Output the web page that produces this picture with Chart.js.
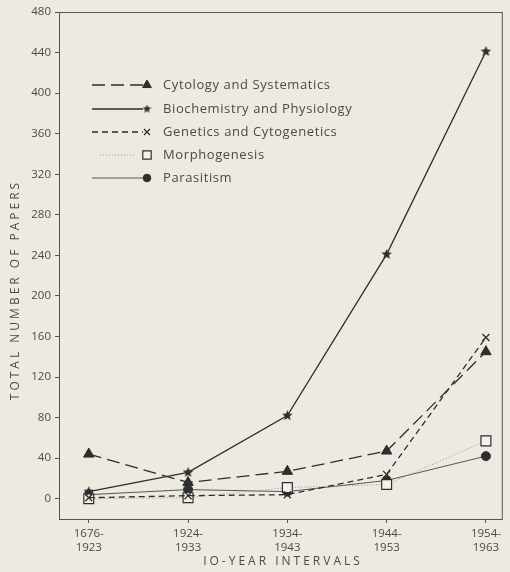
<!DOCTYPE html>
<html>
<head>
<meta charset="utf-8">
<script src="https://cdn.jsdelivr.net/npm/chart.js@4/dist/chart.umd.min.js"></script>
<style>
  html, body { margin: 0; padding: 0; background: #edeae2; }
  #wrap { width: 510px; height: 572px; }
</style>
</head>
<body>
<div id="wrap"><canvas id="c" width="510" height="572"></canvas></div>
<script>
const INTERVALS = [['1676-', '1923'], ['1924-', '1933'], ['1934-', '1943'], ['1944-', '1953'], ['1954-', '1963']];
const Y_TICKS = [0, 40, 80, 120, 160, 200, 240, 280, 320, 360, 400, 440, 480];

const cytology = [44, 16, 27, 47, 145];
const biochemistry = [7, 26, 82, 241, 441];
const genetics = [1, 3, 4, 24, 159];
const morphogenesis = [0, 1, 11, 14, 57];
const parasitism = [4, 9, 7, 18, 42];

const INK = '#2e2e2e';
const TEXT = '#4a4a4a';

// filled five-point star, chart.js has no solid star
function starImage(size) {
  const cv = document.createElement('canvas');
  cv.width = size; cv.height = size;
  const g = cv.getContext('2d');
  const cx = size / 2, cy = size / 2, R = size / 2, r = R * 0.45;
  g.beginPath();
  for (let i = 0; i < 10; i++) {
    const rad = i % 2 ? r : R;
    const a = -Math.PI / 2 + i * Math.PI / 5;
    g.lineTo(cx + rad * Math.cos(a), cy + rad * Math.sin(a));
  }
  g.closePath();
  g.fillStyle = INK;
  g.fill();
  return cv;
}
const STAR = starImage(11);
const STAR_SMALL = starImage(9);

const pts = (arr) => arr.map((v, i) => ({ x: i, y: v }));

const series = [
  { label: 'Cytology and Systematics', data: cytology, dash: [13, 6], width: 1.3, color: INK,
    point: { pointStyle: 'triangle', radius: 6, backgroundColor: INK, borderColor: INK, borderWidth: 1 } },
  { label: 'Biochemistry and Physiology', data: biochemistry, dash: [], width: 1.3, color: INK,
    point: { pointStyle: STAR, radius: 5, backgroundColor: INK, borderColor: INK, borderWidth: 1 } },
  { label: 'Genetics and Cytogenetics', data: genetics, dash: [6, 4], width: 1.3, color: INK,
    point: { pointStyle: 'crossRot', radius: 5, backgroundColor: INK, borderColor: INK, borderWidth: 1.3 } },
  { label: 'Morphogenesis', data: morphogenesis, dash: [1, 2], width: 1, color: '#9a9a9a',
    point: { pointStyle: 'rect', radius: 7, backgroundColor: '#f4f2ec', borderColor: INK, borderWidth: 1.2 } },
  { label: 'Parasitism', data: parasitism, dash: [], width: 1, color: '#555',
    point: { pointStyle: 'circle', radius: 4.5, backgroundColor: INK, borderColor: INK, borderWidth: 1 } },
];

const datasets = series.map((s) => ({
  label: s.label,
  data: pts(s.data),
  borderColor: s.color,
  borderWidth: s.width,
  borderDash: s.dash,
  fill: false,
  tension: 0,
  pointStyle: s.point.pointStyle,
  pointRadius: s.point.radius,
  pointBackgroundColor: s.point.backgroundColor,
  pointBorderColor: s.point.borderColor,
  pointBorderWidth: s.point.borderWidth,
}));

const paper = {
  id: 'paper',
  beforeDraw(chart) {
    const ctx = chart.ctx;
    ctx.save();
    ctx.fillStyle = '#edeae2';
    ctx.fillRect(0, 0, chart.width, chart.height);
    ctx.restore();
  },
  afterDraw(chart) {
    const ctx = chart.ctx;
    const a = chart.chartArea;
    ctx.save();
    // frame
    ctx.strokeStyle = '#555';
    ctx.lineWidth = 1;
    ctx.strokeRect(a.left + 0.5, a.top + 0.5, a.right - a.left, a.bottom - a.top);

    // legend, inside the plot
    const rows = [85, 109, 132, 155, 178];
    const x0 = 92, x1 = 143, mx = 147, tx = 163;
    ctx.textBaseline = 'middle';
    series.forEach((s, i) => {
      const y = rows[i];
      ctx.save();
      ctx.strokeStyle = s.color;
      ctx.lineWidth = s.width;
      ctx.setLineDash(s.dash);
      ctx.beginPath();
      ctx.moveTo(i === 3 ? x0 + 8 : x0, y);
      ctx.lineTo(i === 3 ? x1 - 8 : x1, y);
      ctx.stroke();
      ctx.restore();

      ctx.save();
      const p = Object.assign({}, s.point, { radius: s.point.radius * 0.85, rotation: 0 });
      if (p.pointStyle === STAR) p.pointStyle = STAR_SMALL;
      ctx.fillStyle = p.backgroundColor;
      ctx.strokeStyle = p.borderColor;
      ctx.lineWidth = p.borderWidth;
      ctx.setLineDash([]);
      Chart.helpers.drawPoint(ctx, p, mx, y);
      ctx.restore();

      ctx.font = '13px "Open Sans"';
      ctx.letterSpacing = '0.6px';
      ctx.fillStyle = TEXT;
      ctx.fillText(s.label, tx, y);
    });

    // axis titles
    ctx.letterSpacing = '3px';
    ctx.font = '12px "Open Sans"';
    ctx.fillStyle = TEXT;
    ctx.textAlign = 'center';
    ctx.fillText('IO-YEAR INTERVALS', 283, 562);
    ctx.translate(16, 290);
    ctx.rotate(-Math.PI / 2);
    ctx.fillText('TOTAL NUMBER OF PAPERS', 0, 0);
    ctx.restore();
  },
};

new Chart(document.getElementById('c'), {
  type: 'line',
  data: { datasets },
  plugins: [paper],
  options: {
    responsive: false,
    animation: false,
    layout: { padding: { top: 12, right: 8, left: 0, bottom: 0 } },
    plugins: { legend: { display: false }, tooltip: { enabled: false } },
    scales: {
      x: {
        type: 'linear',
        min: -0.3,
        max: 4.16,
        afterBuildTicks: (s) => { s.ticks = INTERVALS.map((_, i) => ({ value: i })); },
        afterFit: (s) => { s.height = 53; },
        grid: { drawOnChartArea: false, color: '#555', tickLength: 4 },
        border: { color: '#555' },
        ticks: {
          color: TEXT,
          font: { family: 'Open Sans', size: 11.5 },
          padding: 4,
          maxRotation: 0,
          callback: (v) => INTERVALS[v],
        },
      },
      y: {
        min: -20,
        max: 480,
        afterBuildTicks: (s) => { s.ticks = Y_TICKS.map((v) => ({ value: v })); },
        afterFit: (s) => { s.width = 59; },
        grid: { drawOnChartArea: false, color: '#555', tickLength: 4 },
        border: { color: '#555' },
        ticks: {
          color: TEXT,
          font: { family: 'Open Sans', size: 11.5 },
          padding: 4,
        },
      },
    },
  },
});
</script>
</body>
</html>
